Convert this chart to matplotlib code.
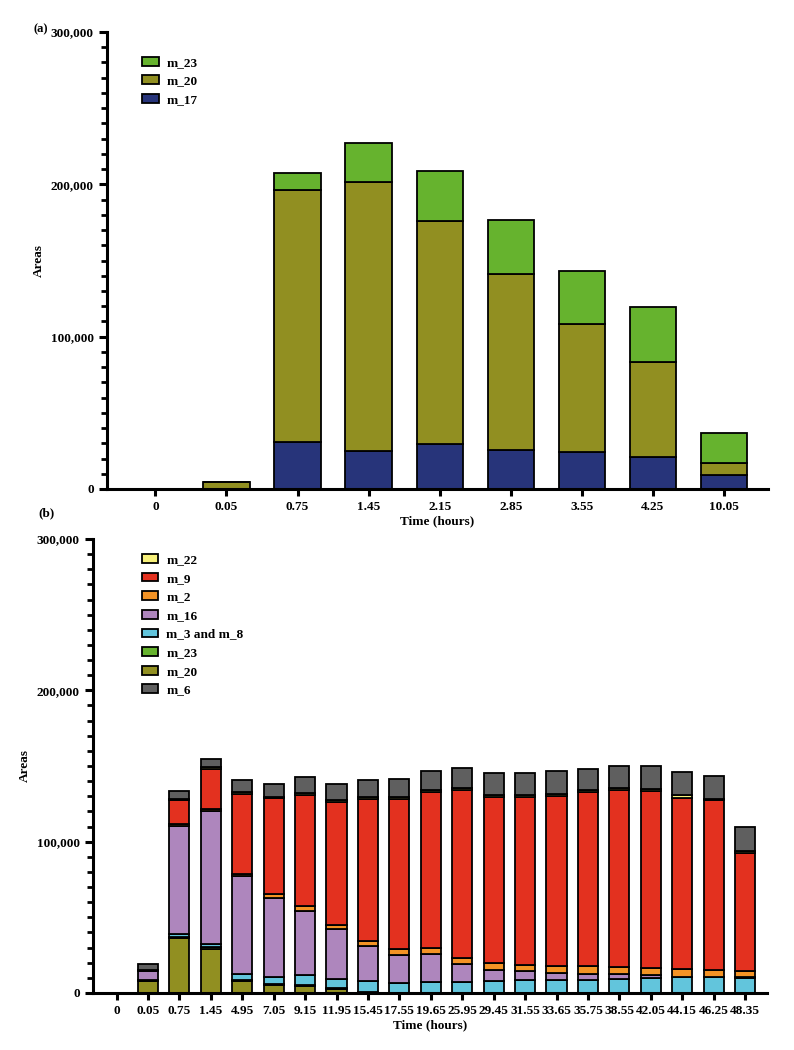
import numpy as np
import matplotlib.pyplot as plt
from matplotlib.patches import Patch
from matplotlib.ticker import FuncFormatter, MultipleLocator

plt.rcParams['font.family'] = ['Liberation Serif', 'DejaVu Serif']
plt.rcParams['font.weight'] = 'bold'

# (a) data
times_a = ['0', '0.05', '0.75', '1.45', '2.15', '2.85', '3.55', '4.25', '10.05']
a_m17 = [0, 0, 30900, 25100, 29500, 25800, 24000, 21000, 9400]
a_m20 = [0, 4800, 165600, 176200, 146700, 115400, 84500, 62600, 7700]
a_m23 = [0, 0, 11000, 25900, 32300, 35600, 34800, 36100, 19900]

# (b) data
times_b = ['0', '0.05', '0.75', '1.45', '4.95', '7.05', '9.15', '11.95', '15.45', '17.55',
           '19.65', '25.95', '29.45', '31.55', '33.65', '35.75', '38.55', '42.05', '44.15',
           '46.25', '48.35']
b_m20 = [0, 7700, 36400, 29300, 8200, 5500, 4900, 2900, 500, 0, 0, 0, 0, 0, 0, 0, 0, 0, 0, 0, 0]
b_m23 = [0, 500, 800, 1000, 700, 500, 500, 400, 0, 0, 0, 0, 0, 0, 0, 0, 0, 0, 0, 0, 0]
b_m3_m8 = [0, 500, 2100, 1900, 3900, 4600, 6500, 5700, 7200, 6800, 7500, 7500, 8100, 8600,
           8600, 8800, 9000, 9900, 10300, 10300, 10100]
b_m16 = [0, 5600, 71000, 88000, 64400, 52100, 42400, 33100, 23100, 18500, 18200, 11600, 7300,
         5900, 4800, 4000, 3300, 1800, 500, 300, 300]
b_m2 = [0, 300, 1500, 1200, 1300, 2400, 3100, 2700, 3500, 3500, 4200, 4200, 4600, 4200, 4600,
        5200, 4900, 4800, 5000, 4800, 4300]
b_m9 = [0, 700, 15700, 26800, 53000, 63500, 73400, 81600, 93700, 99500, 103000, 110700, 109800,
        110700, 112000, 115100, 117000, 117000, 113300, 111800, 78100]
b_m22 = [0, 0, 1000, 1000, 1300, 1200, 1600, 1300, 1600, 1200, 1500, 1500, 1300, 1300, 1300,
         1300, 1300, 1300, 1600, 1300, 1000]
b_m6 = [0, 4000, 5000, 5200, 7900, 8100, 10100, 10400, 11000, 12200, 12600, 13200, 14300, 14700,
        15200, 13900, 14800, 15000, 15400, 14700, 16000]

colors = {
    'm_17': '#27347a', 'm_20': '#918f21', 'm_23': '#66b32e', 'm_22': '#f7f07a',
    'm_9': '#e3311f', 'm_2': '#f39325', 'm_16': '#ae86bd', 'm_3 and m_8': '#62c5dc',
    'm_6': '#5f5f5f',
}

fig = plt.figure(figsize=(7.94, 10.5), dpi=100)
ax1 = fig.add_axes([0.1348, 0.5343, 0.8325, 0.4352])
ax2 = fig.add_axes([0.1171, 0.0543, 0.849, 0.4324])


def style_axis(ax, n, left, right):
    ax.set_ylim(0, 300000)
    ax.set_xlim(left, right)
    ax.set_xticks(np.arange(n))
    ax.yaxis.set_major_locator(MultipleLocator(100000))
    ax.yaxis.set_minor_locator(MultipleLocator(10000))
    ax.yaxis.set_major_formatter(FuncFormatter(lambda v, p: f'{v:,.0f}'))
    for s in ['top', 'right']:
        ax.spines[s].set_visible(False)
    for s in ['left', 'bottom']:
        ax.spines[s].set_linewidth(2.2)
    ax.tick_params(axis='y', which='major', length=6, width=2.2, labelsize=9.5)
    ax.tick_params(axis='y', which='minor', length=4, width=2)
    ax.tick_params(axis='x', length=5, width=2.2, labelsize=9.5)
    ax.set_xlabel('Time (hours)', fontsize=9.5, fontweight='bold', labelpad=2)
    ax.set_ylabel('Areas', fontsize=9.5, fontweight='bold', labelpad=4)


# 🔹 (a)
x = np.arange(len(times_a))
w = 0.65
kw = dict(width=w, edgecolor='black', linewidth=1.3)
ax1.bar(x, a_m17, color=colors['m_17'], **kw)
ax1.bar(x, a_m20, bottom=a_m17, color=colors['m_20'], **kw)
ax1.bar(x, a_m23, bottom=np.add(a_m17, a_m20), color=colors['m_23'], **kw)
style_axis(ax1, len(times_a), -0.68, 8.62)
ax1.set_xticklabels(times_a)
h1 = [Patch(facecolor=colors[k], edgecolor='black', linewidth=1.3) for k in ['m_23', 'm_20', 'm_17']]
ax1.legend(h1, ['m_23', 'm_20', 'm_17'], loc='upper left', bbox_to_anchor=(0.035, 0.972),
           frameon=False, fontsize=9.5, handlelength=1.25, handleheight=0.65,
           labelspacing=0.5, handletextpad=0.6)
fig.text(0.042, 0.969, '(a)', fontsize=9, fontweight='bold')

# 🔹 (b)
x = np.arange(len(times_b))
w = 0.64
kw = dict(width=w, edgecolor='black', linewidth=1.3)
stack = [('m_20', b_m20), ('m_23', b_m23), ('m_3 and m_8', b_m3_m8), ('m_16', b_m16),
         ('m_2', b_m2), ('m_9', b_m9), ('m_22', b_m22), ('m_6', b_m6)]
bottom = np.zeros(len(times_b))
for name, vals in stack:
    ax2.bar(x, vals, bottom=bottom, color=colors[name], **kw)
    bottom = bottom + np.array(vals)
style_axis(ax2, len(times_b), -0.75, 20.7)
ax2.set_xticklabels(times_b)
order_b = ['m_22', 'm_9', 'm_2', 'm_16', 'm_3 and m_8', 'm_23', 'm_20', 'm_6']
h2 = [Patch(facecolor=colors[k], edgecolor='black', linewidth=1.3) for k in order_b]
ax2.legend(h2, order_b, loc='upper left', bbox_to_anchor=(0.055, 0.993),
           frameon=False, fontsize=9.5, handlelength=1.25, handleheight=0.65,
           labelspacing=0.5, handletextpad=0.6)
fig.text(0.048, 0.508, '(b)', fontsize=9.5, fontweight='bold')

plt.savefig('out.png', dpi=100)
